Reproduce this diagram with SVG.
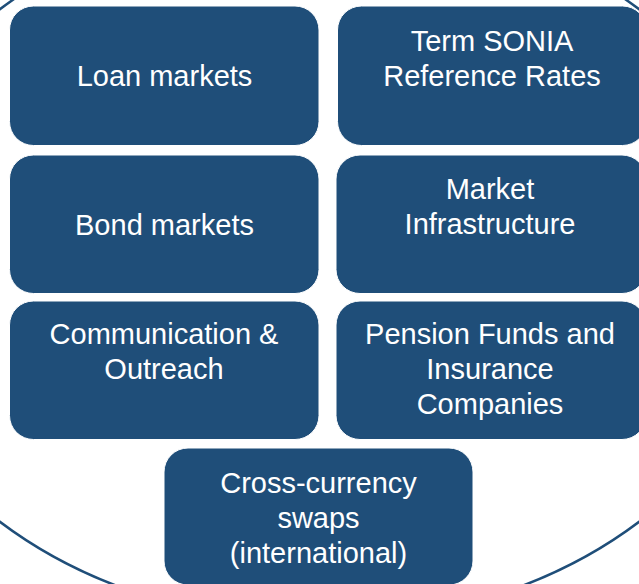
<svg xmlns="http://www.w3.org/2000/svg" width="639" height="584" viewBox="0 0 639 584">
<style>
.box{fill:#1F4E79;stroke:#ffffff;stroke-width:1}
.t{font-family:"Liberation Sans",Arial,sans-serif;font-size:29px;fill:#ffffff;text-anchor:middle}
</style>
<rect width="639" height="584" fill="#ffffff"/>
<g id="outline">
<ellipse cx="319.5" cy="265.5" rx="459" ry="357" fill="none" stroke="#1F4E79" stroke-width="2.5"/>
</g>
<g id="connectors"></g>
<g id="loan"><rect class="box" x="9.5" y="6" width="309.5" height="139.5" rx="24"/><text class="t" x="164.5" y="86">Loan markets</text></g>
<g id="sonia"><rect class="box" x="337.5" y="6" width="309" height="139.5" rx="24"/><text class="t" x="492" y="51">Term SONIA</text><text class="t" x="492" y="86">Reference Rates</text></g>
<g id="bond"><rect class="box" x="9.5" y="155" width="309.5" height="138.5" rx="24"/><text class="t" x="164.5" y="235">Bond markets</text></g>
<g id="infra"><rect class="box" x="336" y="155" width="310" height="138.5" rx="24"/><text class="t" x="490" y="199">Market</text><text class="t" x="490" y="234">Infrastructure</text></g>
<g id="comm"><rect class="box" x="9.5" y="301" width="309.5" height="138.5" rx="24"/><text class="t" x="164" y="344">Communication &amp;</text><text class="t" x="164" y="379">Outreach</text></g>
<g id="pension"><rect class="box" x="336" y="301" width="310" height="138.5" rx="24"/><text class="t" x="490" y="344">Pension Funds and</text><text class="t" x="490" y="379">Insurance</text><text class="t" x="490" y="414">Companies</text></g>
<g id="xccy"><rect class="box" x="164" y="448" width="309" height="137" rx="24"/><text class="t" x="318.5" y="493">Cross-currency</text><text class="t" x="318.5" y="528">swaps</text><text class="t" x="318.5" y="563">(international)</text></g>
</svg>
